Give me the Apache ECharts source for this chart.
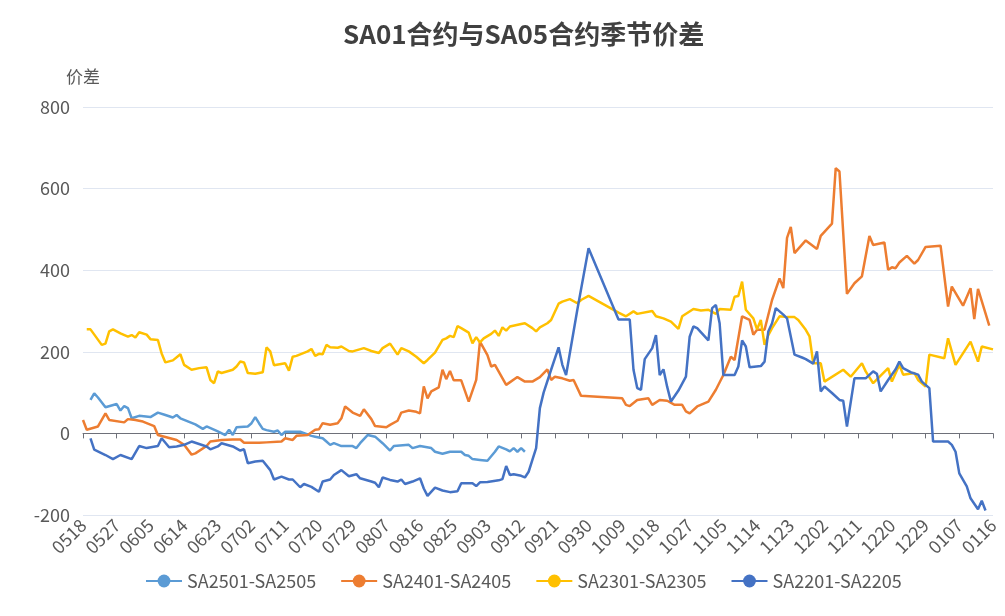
<!DOCTYPE html>
<html>
<head>
<meta charset="utf-8">
<title>SA01合约与SA05合约季节价差</title>
<script src="https://cdn.jsdelivr.net/npm/echarts@6/dist/echarts.min.js"></script>
<style>
  html, body { margin: 0; padding: 0; background: #fff; }
  #chart { width: 1005px; height: 616px; }
</style>
</head>
<body>
<div id="chart"></div>
<script>
// daily categories 0518 .. 0116, a label every 9 days
const startDay = new Date(2023, 4, 18)
const dayCount = 244
const categories = []
for (let i = 0; i < dayCount; i++) {
  const d = new Date(startDay.getFullYear(), startDay.getMonth(), startDay.getDate() + i)
  categories.push(String(d.getMonth() + 1).padStart(2, '0') + String(d.getDate()).padStart(2, '0'))
}

const seriesNames = ['SA2501-SA2505', 'SA2401-SA2405', 'SA2301-SA2305', 'SA2201-SA2205']
const seriesColors = ['#5B9BD5', '#ED7D31', '#FFC000', '#4472C4']

// [date, spread]
const sa2501 = [
  ['0520', 82], ['0521', 98], ['0522', 88], ['0524', 64], ['0527', 72], ['0528', 56],
  ['0529', 67], ['0530', 62], ['0531', 37], ['0602', 43], ['0605', 40], ['0607', 51],
  ['0609', 45], ['0611', 39], ['0612', 45], ['0613', 37], ['0617', 22], ['0619', 11],
  ['0620', 17], ['0623', 5], ['0625', -4], ['0626', 9], ['0627', -4], ['0628', 15],
  ['0701', 17], ['0702', 25], ['0703', 40], ['0704', 25], ['0705', 11], ['0706', 8],
  ['0708', 4], ['0709', 7], ['0710', -4], ['0711', 4], ['0715', 4], ['0718', -6],
  ['0719', -8], ['0721', -12], ['0722', -20], ['0723', -28], ['0724', -24], ['0726', -31],
  ['0729', -31], ['0730', -36], ['0731', -24], ['0802', -4], ['0804', -8], ['0806', -24],
  ['0808', -42], ['0809', -31], ['0813', -28], ['0814', -36], ['0816', -31], ['0819', -36],
  ['0820', -45], ['0822', -50], ['0824', -45], ['0827', -45], ['0828', -53], ['0829', -55],
  ['0830', -63], ['0901', -65], ['0903', -67], ['0905', -45], ['0906', -32], ['0908', -39],
  ['0909', -44], ['0910', -36], ['0911', -45], ['0912', -36], ['0913', -45]
]

const sa2401 = [
  ['0518', 33], ['0519', 9], ['0522', 17], ['0524', 49], ['0525', 33], ['0529', 27],
  ['0530', 35], ['0601', 33], ['0603', 29], ['0606', 18], ['0607', -4], ['0612', -16],
  ['0614', -28], ['0616', -52], ['0617', -49], ['0620', -31], ['0621', -20], ['0624', -16],
  ['0627', -15], ['0629', -15], ['0630', -23], ['0704', -23], ['0706', -22], ['0710', -20],
  ['0711', -12], ['0713', -16], ['0714', -6], ['0717', -4], ['0719', 9], ['0720', 10],
  ['0721', 25], ['0723', 21], ['0725', 25], ['0726', 37], ['0727', 66], ['0729', 51],
  ['0731', 43], ['0801', 59], ['0803', 35], ['0804', 18], ['0807', 15], ['0808', 21],
  ['0810', 31], ['0811', 51], ['0813', 56], ['0815', 53], ['0816', 49], ['0817', 115],
  ['0818', 86], ['0819', 103], ['0821', 113], ['0822', 156], ['0823', 133], ['0824', 153],
  ['0825', 130], ['0827', 130], ['0829', 78], ['0831', 131], ['0901', 225], ['0903', 192],
  ['0904', 164], ['0905', 168], ['0908', 119], ['0911', 138], ['0913', 127], ['0915', 127],
  ['0917', 138], ['0919', 157], ['0920', 131], ['0921', 139], ['0923', 135], ['0925', 129],
  ['0926', 131], ['0928', 92], ['1009', 86], ['1010', 70], ['1011', 67], ['1013', 82],
  ['1016', 86], ['1017', 70], ['1019', 82], ['1021', 80], ['1023', 70], ['1025', 70],
  ['1026', 54], ['1027', 49], ['1029', 66], ['1101', 78], ['1103', 107], ['1105', 143],
  ['1107', 188], ['1108', 180], ['1110', 287], ['1112', 278], ['1113', 242], ['1114', 254],
  ['1116', 254], ['1118', 327], ['1120', 380], ['1121', 356], ['1122', 479], ['1123', 506],
  ['1124', 442], ['1127', 473], ['1130', 452], ['1201', 484], ['1204', 514], ['1205', 650],
  ['1206', 642], ['1208', 342], ['1210', 368], ['1212', 385], ['1214', 484], ['1215', 462],
  ['1218', 468], ['1219', 401], ['1220', 407], ['1221', 405], ['1222', 419], ['1224', 435],
  ['1226', 416], ['1227', 425], ['1229', 457], ['0102', 460], ['0104', 311], ['0105', 360],
  ['0108', 313], ['0110', 356], ['0111', 280], ['0112', 354], ['0115', 264]
]

const sa2301 = [
  ['0519', 255], ['0520', 255], ['0523', 217], ['0524', 220], ['0525', 250], ['0526', 255],
  ['0528', 245], ['0530', 237], ['0531', 241], ['0601', 235], ['0602', 248], ['0604', 242],
  ['0605', 231], ['0607', 229], ['0608', 196], ['0609', 174], ['0611', 179], ['0613', 194],
  ['0614', 168], ['0616', 156], ['0618', 160], ['0620', 162], ['0621', 131], ['0622', 123],
  ['0623', 152], ['0624', 148], ['0627', 156], ['0628', 164], ['0629', 176], ['0630', 174],
  ['0701', 148], ['0703', 146], ['0705', 150], ['0706', 211], ['0707', 201], ['0708', 167],
  ['0711', 172], ['0712', 154], ['0713', 188], ['0714', 190], ['0717', 201], ['0718', 207],
  ['0719', 190], ['0720', 195], ['0721', 194], ['0722', 217], ['0723', 211], ['0725', 210],
  ['0726', 213], ['0728', 202], ['0729', 201], ['0801', 209], ['0803', 202], ['0805', 197],
  ['0806', 209], ['0808', 220], ['0810', 193], ['0811', 209], ['0813', 201], ['0815', 188],
  ['0817', 172], ['0818', 180], ['0820', 198], ['0822', 229], ['0823', 233], ['0824', 239],
  ['0825', 236], ['0826', 263], ['0827', 258], ['0829', 247], ['0830', 221], ['0831', 236],
  ['0901', 223], ['0902', 233], ['0904', 244], ['0905', 252], ['0906', 239], ['0907', 260],
  ['0908', 252], ['0909', 262], ['0912', 268], ['0913', 270], ['0915', 258], ['0916', 250],
  ['0917', 260], ['0919', 270], ['0920', 278], ['0922', 318], ['0923', 323], ['0925', 329],
  ['0927', 319], ['0928', 327], ['0930', 337], ['1008', 296], ['1010', 287], ['1012', 299],
  ['1013', 293], ['1017', 300], ['1018', 287], ['1020', 282], ['1022', 274], ['1024', 256],
  ['1025', 287], ['1028', 305], ['1030', 301], ['1101', 303], ['1103', 293], ['1104', 305],
  ['1107', 303], ['1108', 335], ['1109', 337], ['1110', 372], ['1111', 303], ['1113', 282],
  ['1114', 255], ['1115', 278], ['1116', 217], ['1117', 241], ['1118', 258], ['1120', 287],
  ['1122', 285], ['1124', 285], ['1125', 278], ['1127', 254], ['1128', 238], ['1129', 172],
  ['1201', 172], ['1202', 127], ['1207', 156], ['1209', 139], ['1212', 172], ['1213', 152],
  ['1215', 123], ['1219', 160], ['1220', 127], ['1222', 168], ['1223', 144], ['1226', 148],
  ['1227', 131], ['1229', 115], ['1230', 193], ['0103', 184], ['0104', 233], ['0106', 168],
  ['0110', 225], ['0112', 176], ['0113', 213], ['0116', 206]
]

const sa2201 = [
  ['0520', -12], ['0521', -40], ['0524', -53], ['0526', -63], ['0528', -53], ['0531', -63],
  ['0602', -31], ['0604', -36], ['0607', -31], ['0608', -12], ['0610', -34], ['0612', -32],
  ['0614', -28], ['0616', -20], ['0618', -26], ['0620', -32], ['0621', -39], ['0623', -32],
  ['0624', -24], ['0627', -32], ['0629', -42], ['0630', -39], ['0701', -73], ['0703', -69],
  ['0705', -67], ['0707', -90], ['0708', -113], ['0710', -106], ['0712', -113], ['0713', -113],
  ['0715', -132], ['0716', -124], ['0718', -131], ['0720', -143], ['0721', -118], ['0723', -113],
  ['0724', -102], ['0726', -90], ['0728', -105], ['0730', -100], ['0731', -110], ['0803', -118],
  ['0804', -121], ['0805', -132], ['0806', -108], ['0808', -114], ['0810', -118], ['0811', -113],
  ['0812', -124], ['0814', -118], ['0816', -110], ['0817', -135], ['0818', -153], ['0820', -133],
  ['0822', -140], ['0824', -144], ['0826', -142], ['0827', -122], ['0830', -122], ['0831', -129],
  ['0901', -120], ['0903', -119], ['0906', -115], ['0907', -112], ['0908', -80], ['0909', -102],
  ['0910', -100], ['0912', -104], ['0913', -108], ['0914', -94], ['0915', -65], ['0916', -36],
  ['0917', 62], ['0918', 100], ['0920', 156], ['0922', 211], ['0923', 168], ['0924', 143],
  ['0927', 303], ['0930', 454], ['1008', 279], ['1011', 279], ['1012', 156], ['1013', 111],
  ['1014', 107], ['1015', 182], ['1017', 209], ['1018', 241], ['1019', 143], ['1020', 157],
  ['1021', 114], ['1022', 78], ['1024', 105], ['1026', 139], ['1027', 237], ['1028', 262],
  ['1029', 258], ['1101', 228], ['1102', 307], ['1103', 315], ['1104', 270], ['1105', 143],
  ['1108', 143], ['1109', 164], ['1110', 228], ['1111', 213], ['1112', 162], ['1115', 165],
  ['1116', 176], ['1117', 250], ['1118', 270], ['1119', 307], ['1121', 291], ['1122', 282],
  ['1124', 193], ['1126', 186], ['1127', 182], ['1129', 171], ['1130', 201], ['1201', 103],
  ['1202', 115], ['1204', 99], ['1206', 82], ['1207', 80], ['1208', 17], ['1210', 135],
  ['1213', 135], ['1215', 152], ['1216', 146], ['1217', 103], ['1219', 131], ['1221', 157],
  ['1222', 176], ['1223', 160], ['1225', 150], ['1227', 144], ['1228', 127], ['1230', 111],
  ['1231', -20], ['0104', -20], ['0105', -28], ['0106', -45], ['0107', -98], ['0109', -130],
  ['0110', -159], ['0112', -186], ['0113', -165], ['0114', -189]
]

const seriesData = [sa2501, sa2401, sa2301, sa2201]

const chart = echarts.init(document.getElementById('chart'), null, { renderer: 'canvas' })

const labelColor = '#595959'
const fontFamily = '"Noto Sans CJK SC", "Noto Sans", sans-serif'

chart.setOption({
  animation: false,
  textStyle: { fontFamily },
  title: {
    text: 'SA01合约与SA05合约季节价差',
    left: 338,
    top: 16,
    textStyle: { fontSize: 26, fontWeight: 'bold', color: '#404040', fontFamily },
  },
  legend: {
    data: seriesNames,
    left: 140,
    top: 567,
    itemGap: 24,
    itemWidth: 36,
    itemHeight: 16,
    textStyle: { fontSize: 18, color: labelColor },
  },
  grid: { left: 83, right: 12, top: 107, bottom: 101 },
  xAxis: [
    {
      type: 'category',
      data: categories,
      boundaryGap: false,
      axisLine: { onZero: true, lineStyle: { color: '#6E7079' } },
      axisTick: { show: true, interval: 8, length: 5 },
      axisLabel: { show: false },
    },
    {
      type: 'category',
      data: categories,
      boundaryGap: false,
      position: 'bottom',
      axisLine: { show: false, onZero: false },
      axisTick: { show: false },
      axisLabel: {
        interval: 8,
        rotate: 45,
        margin: 7,
        fontSize: 18,
        color: labelColor,
      },
    },
  ],
  yAxis: {
    type: 'value',
    name: '价差',
    nameGap: 22,
    nameTextStyle: { fontSize: 17, color: labelColor },
    min: -200,
    max: 800,
    interval: 200,
    axisLine: { show: false },
    axisTick: { show: false },
    axisLabel: { fontSize: 18, color: labelColor, margin: 13 },
    splitLine: { lineStyle: { color: '#E0E6F1' } },
  },
  series: seriesNames.map((name, i) => ({
    name,
    type: 'line',
    xAxisIndex: 0,
    data: seriesData[i],
    symbol: 'circle',
    symbolSize: 8,
    showSymbol: false,
    color: seriesColors[i],
    lineStyle: { width: 2.5, color: seriesColors[i] },
  })),
})
</script>
</body>
</html>
